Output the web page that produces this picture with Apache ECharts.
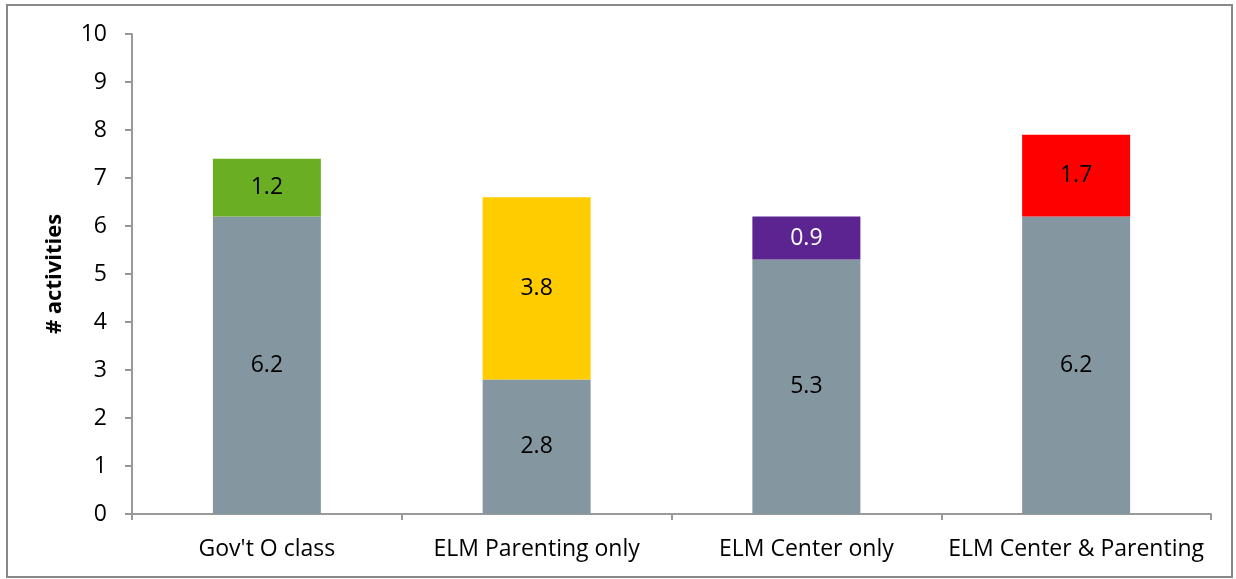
<!DOCTYPE html>
<html>
<head>
<meta charset="utf-8">
<script src="https://cdn.jsdelivr.net/npm/echarts@6/dist/echarts.min.js"></script>
<style>
  html, body { margin: 0; padding: 0; background: #fff; }
  #chart { width: 1236px; height: 579px; position: relative; }
  #frame { position: absolute; left: 6px; top: 4px; right: 3px; bottom: 1px; border: 2px solid #888; pointer-events: none; }
</style>
</head>
<body>
<div id="chart"></div>
<div id="frame"></div>
<script>
var categories = ['Gov\'t O class', 'ELM Parenting only', 'ELM Center only', 'ELM Center & Parenting']
var baseValues = [6.2, 2.8, 5.3, 6.2]
var extraValues = [1.2, 3.8, 0.9, 1.7]
var extraColors = ['#6AAF23', '#FFCC00', '#5B2491', '#FF0000']
var extraLabelColors = ['#000', '#000', '#fff', '#000']
var yTicks = [0, 1, 2, 3, 4, 5, 6, 7, 8, 9, 10]

var font = '"Open Sans", "Liberation Sans", sans-serif'
var myChart = echarts.init(document.getElementById('chart'))

var extraData = extraValues.map(function (v, i) {
  return {
    value: v,
    itemStyle: { color: extraColors[i] },
    label: { color: extraLabelColors[i] }
  }
})

var option = {
  backgroundColor: '#FFFFFF',
  animation: false,
  grid: { left: 132, right: 25, top: 34, bottom: 65 },
  xAxis: {
    type: 'category',
    data: categories,
    axisLine: { lineStyle: { color: '#999', width: 2 } },
    axisTick: { show: true, length: 6, lineStyle: { color: '#999', width: 2 } },
    axisLabel: { color: '#000', fontSize: 23, fontFamily: font, margin: 24, interval: 0 }
  },
  yAxis: {
    type: 'value',
    min: yTicks[0],
    max: yTicks[yTicks.length - 1],
    interval: 1,
    name: '# activities',
    nameLocation: 'middle',
    nameGap: 66,
    nameTextStyle: { color: '#000', fontSize: 22, fontWeight: 'bold', fontFamily: font },
    splitLine: { show: false },
    axisLine: { show: true, lineStyle: { color: '#999', width: 2 } },
    axisTick: { show: true, length: 7, lineStyle: { color: '#999', width: 2 } },
    axisLabel: { color: '#000', fontSize: 23, fontFamily: font, margin: 25 }
  },
  series: [
    {
      name: 'base',
      type: 'bar',
      stack: 'total',
      barWidth: 108,
      data: baseValues,
      itemStyle: { color: '#8497A0' },
      label: { show: true, position: 'inside', color: '#000', fontSize: 23, fontFamily: font }
    },
    {
      name: 'extra',
      type: 'bar',
      stack: 'total',
      barWidth: 108,
      data: extraData,
      label: { show: true, position: 'inside', fontSize: 23, fontFamily: font }
    }
  ]
}
myChart.setOption(option)
window.onresize = myChart.resize
</script>
</body>
</html>
